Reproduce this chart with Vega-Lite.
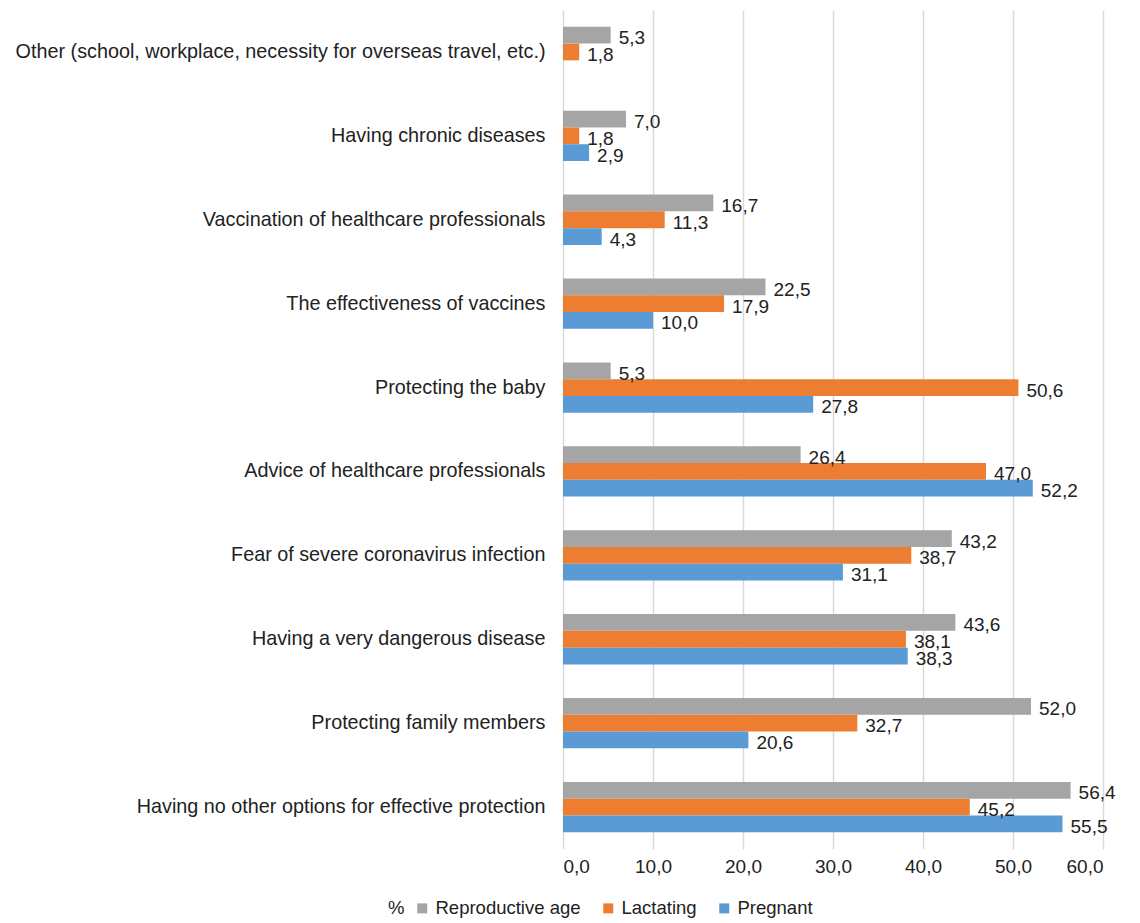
{
  "$schema": "https://vega.github.io/schema/vega-lite/v6.json",
  "autosize": {"type": "none"},
  "padding": {"left": 563, "top": 10, "right": 37, "bottom": 74},
  "width": 540,
  "height": 839,
  "background": "white",
  "config": {
    "locale": {"number": {"decimal": ",", "thousands": ".", "grouping": [3], "currency": ["", " €"]}},
    "view": {"stroke": null},
    "font": "Liberation Sans"
  },
  "data": {"values": [
    {"reason": "Other (school, workplace, necessity for overseas travel, etc.)", "group": "Reproductive age", "value": 5.3},
    {"reason": "Other (school, workplace, necessity for overseas travel, etc.)", "group": "Lactating", "value": 1.8},
    {"reason": "Having chronic diseases", "group": "Reproductive age", "value": 7.0},
    {"reason": "Having chronic diseases", "group": "Lactating", "value": 1.8},
    {"reason": "Having chronic diseases", "group": "Pregnant", "value": 2.9},
    {"reason": "Vaccination of healthcare professionals", "group": "Reproductive age", "value": 16.7},
    {"reason": "Vaccination of healthcare professionals", "group": "Lactating", "value": 11.3},
    {"reason": "Vaccination of healthcare professionals", "group": "Pregnant", "value": 4.3},
    {"reason": "The effectiveness of vaccines", "group": "Reproductive age", "value": 22.5},
    {"reason": "The effectiveness of vaccines", "group": "Lactating", "value": 17.9},
    {"reason": "The effectiveness of vaccines", "group": "Pregnant", "value": 10.0},
    {"reason": "Protecting the baby", "group": "Reproductive age", "value": 5.3},
    {"reason": "Protecting the baby", "group": "Lactating", "value": 50.6},
    {"reason": "Protecting the baby", "group": "Pregnant", "value": 27.8},
    {"reason": "Advice of healthcare professionals", "group": "Reproductive age", "value": 26.4},
    {"reason": "Advice of healthcare professionals", "group": "Lactating", "value": 47.0},
    {"reason": "Advice of healthcare professionals", "group": "Pregnant", "value": 52.2},
    {"reason": "Fear of severe coronavirus infection", "group": "Reproductive age", "value": 43.2},
    {"reason": "Fear of severe coronavirus infection", "group": "Lactating", "value": 38.7},
    {"reason": "Fear of severe coronavirus infection", "group": "Pregnant", "value": 31.1},
    {"reason": "Having a very dangerous disease", "group": "Reproductive age", "value": 43.6},
    {"reason": "Having a very dangerous disease", "group": "Lactating", "value": 38.1},
    {"reason": "Having a very dangerous disease", "group": "Pregnant", "value": 38.3},
    {"reason": "Protecting family members", "group": "Reproductive age", "value": 52.0},
    {"reason": "Protecting family members", "group": "Lactating", "value": 32.7},
    {"reason": "Protecting family members", "group": "Pregnant", "value": 20.6},
    {"reason": "Having no other options for effective protection", "group": "Reproductive age", "value": 56.4},
    {"reason": "Having no other options for effective protection", "group": "Lactating", "value": 45.2},
    {"reason": "Having no other options for effective protection", "group": "Pregnant", "value": 55.5}
  ]},
  "encoding": {
    "y": {
      "field": "reason", "type": "nominal", "sort": null, "title": null,
      "scale": {"paddingInner": 0, "paddingOuter": 0},
      "axis": {"ticks": false, "domain": false, "labelFontSize": 19.8, "labelColor": "#222222", "labelPadding": 18, "labelLimit": 600}
    },
    "yOffset": {
      "field": "group", "type": "nominal",
      "sort": ["Reproductive age", "Lactating", "Pregnant"],
      "scale": {"paddingInner": 0, "paddingOuter": 1.39}
    },
    "x": {
      "field": "value", "type": "quantitative", "title": null,
      "scale": {"domain": [0, 60], "nice": false},
      "axis": {"values": [0, 10, 20, 30, 40, 50, 60], "format": ".1f", "ticks": false, "domain": false, "grid": true, "gridColor": "#d9d9d9", "gridWidth": 1.5, "labelFontSize": 19, "labelColor": "#222222", "labelPadding": 8}
    }
  },
  "layer": [
    {
      "mark": {"type": "bar"},
      "encoding": {
        "color": {
          "field": "group", "type": "nominal",
          "scale": {"domain": ["Reproductive age", "Lactating", "Pregnant"], "range": ["#a5a5a5", "#ed7d31", "#5b9bd5"]},
          "legend": {
            "title": "%", "orient": "none", "direction": "horizontal", "titleOrient": "left",
            "legendX": -175, "legendY": 889, "titleFontSize": 18.5, "titleFontWeight": "normal", "titleColor": "#222222", "titlePadding": 8,
            "labelFontSize": 18.5, "labelColor": "#222222", "symbolType": "square", "symbolSize": 100, "symbolStrokeWidth": 0, "columnPadding": 18, "labelOffset": 4
          }
        }
      }
    },
    {
      "mark": {"type": "text", "align": "left", "baseline": "middle", "dx": 8, "dy": 3, "fontSize": 19, "color": "#222222"},
      "encoding": {
        "text": {"field": "value", "type": "quantitative", "format": ".1f"}
      }
    }
  ]
}
